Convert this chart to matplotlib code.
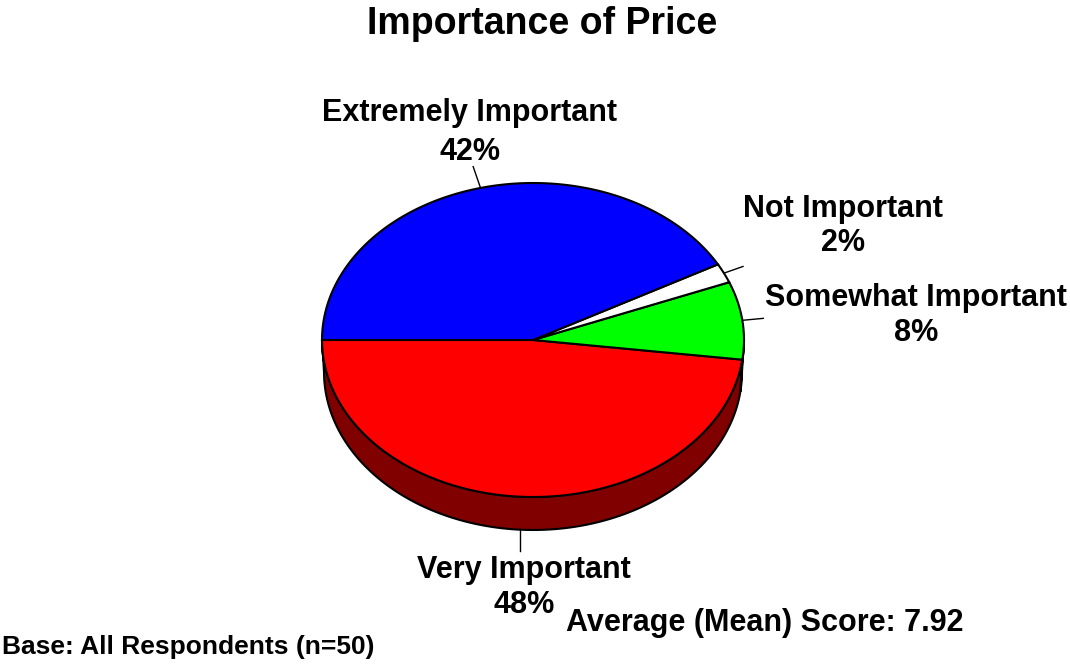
import matplotlib
matplotlib.use("Agg")
import matplotlib.pyplot as plt
from matplotlib.patches import Polygon
import numpy as np

plt.rcParams['font.family'] = ['Liberation Sans', 'DejaVu Sans']

# slice data, drawn counter-clockwise starting at the left (180 deg)
labels = ["Very Important", "Somewhat Important", "Not Important", "Extremely Important"]
values = [48, 8, 2, 42]
colors = ["#FF0000", "#00FF00", "#FFFFFF", "#0000FF"]
side_colors = ["#800000", "#008000", "#C8C8C8", "#000080"]
# (x, name y, percent y) for each label
label_pos = [(524, 570, 605), (916, 298, 333), (843, 209, 243), (470, 113, 152)]

title = "Importance of Price"
mean_text = "Average (Mean) Score: 7.92"
base_text = "Base: All Respondents (n=50)"

# pie geometry in pixel space
cx, cy, rx, ry = 533, 340, 211, 157
bcx, bcy, brx, bry = 533, 372, 209, 158
start = 180.0

fig = plt.figure(figsize=(10.7, 6.64), dpi=100)
ax = fig.add_axes([0, 0, 1, 1])
ax.set_xlim(0, 1070)
ax.set_ylim(664, 0)
ax.axis("off")


def arc(x0, y0, a, b, t1, t2, n=120):
    t = np.radians(np.linspace(t1, t2, n))
    return np.column_stack([x0 + a * np.cos(t), y0 - b * np.sin(t)])


total = sum(values)
angles = [start]
for v in values:
    angles.append(angles[-1] + 360.0 * v / total)

# side walls (only the front half is visible)
for i in range(len(values)):
    a1, a2 = angles[i], angles[i + 1]
    s1, s2 = max(a1, 180), min(a2, 360)
    if s2 <= s1:
        continue
    top = arc(cx, cy, rx, ry, s1, s2)
    bot = arc(bcx, bcy, brx, bry, s2, s1)
    ax.add_patch(Polygon(np.vstack([top, bot]), closed=True, facecolor=side_colors[i],
                         edgecolor="black", linewidth=1.5, zorder=1))

# top face
for i in range(len(values)):
    pts = np.vstack([[cx, cy], arc(cx, cy, rx, ry, angles[i], angles[i + 1])])
    ax.add_patch(Polygon(pts, closed=True, facecolor=colors[i], edgecolor="black",
                         linewidth=1.5, zorder=2))

# labels with leader lines
for i in range(len(values)):
    mid = (angles[i] + angles[i + 1]) / 2
    t = np.radians(mid)
    if 180 < mid % 360 < 360:
        x0 = bcx + brx * np.cos(t)
        y0 = bcy - bry * np.sin(t)
        x1, y1 = x0, y0 + 21
    else:
        x0 = cx + rx * np.cos(t)
        y0 = cy - ry * np.sin(t)
        k = 1.14 if i == 3 else 1.1
        x1 = cx + rx * k * np.cos(t)
        y1 = cy - ry * k * np.sin(t)
    ax.plot([x0, x1], [y0, y1], color="black", linewidth=1, zorder=3)
    lx, ny, py = label_pos[i]
    ax.text(lx, ny, labels[i], ha="center", va="center", fontsize=22, fontweight="bold")
    ax.text(lx, py, f"{values[i]}%", ha="center", va="center", fontsize=22, fontweight="bold")

ax.text(542, 24, title, ha="center", va="center", fontsize=27, fontweight="bold")
ax.text(566, 623, mean_text, ha="left", va="center", fontsize=22, fontweight="bold")
ax.text(2, 647, base_text, ha="left", va="center", fontsize=19, fontweight="bold")

fig.savefig("out.png", dpi=100)
